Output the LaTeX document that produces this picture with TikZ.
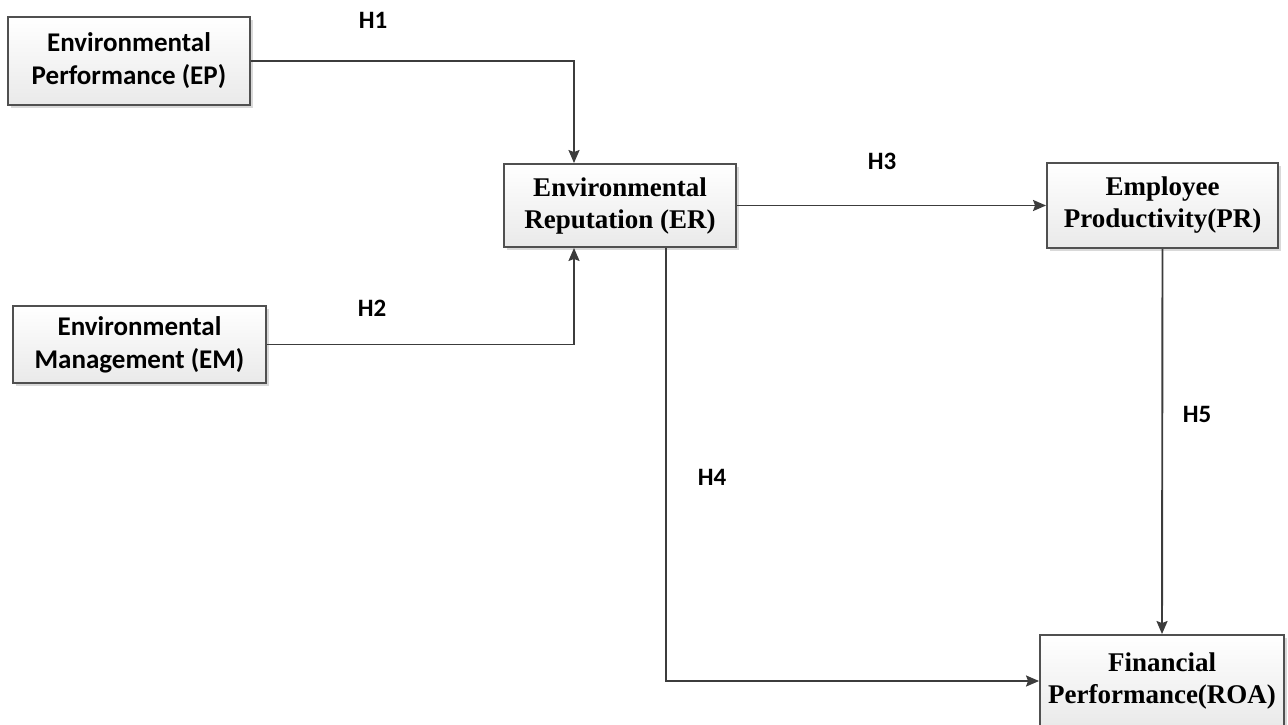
\documentclass[tikz,border=0pt]{standalone}
\usepackage{fontspec}
\setmainfont{Liberation Serif}
\newfontfamily\calibri{Carlito}
\usetikzlibrary{arrows.meta,shadows}
\definecolor{edgecol}{HTML}{505050}
\definecolor{arrcol}{HTML}{3C3C3C}
\begin{document}
\begin{tikzpicture}[x=1pt,y=-1pt,
  box/.style={draw=edgecol, line width=1.9pt, top color=white, bottom color=gray!17,
    drop shadow={shadow xshift=2.5pt, shadow yshift=-2.5pt, fill=gray!50, opacity=0.6},
    align=center, inner sep=0pt, font=\fontsize{27}{32}\selectfont\bfseries},
  calbox/.style={box, font=\calibri\fontsize{27}{33}\selectfont\bfseries},
  hlab/.style={font=\calibri\fontsize{25}{30}\selectfont\bfseries, inner sep=0pt},
  conn/.style={draw=arrcol, line width=1.9pt, -{Stealth[length=13pt,width=11pt,inset=2pt]}}]
\useasboundingbox (0,0) rectangle (1288,724);
\node[calbox, minimum width=242, minimum height=88] (ep) at (129,61) {Environmental\\Performance (EP)};
\node[calbox, minimum width=253, minimum height=77] (em) at (139.5,344.5) {Environmental\\Management (EM)};
\node[box, minimum width=232, minimum height=83] (er) at (620,205.5) {Environmental\\Reputation (ER)};
\node[box, minimum width=231, minimum height=85] (pr) at (1162.5,205.5) {Employee\\Productivity(PR)};
\node[box, minimum width=244, minimum height=92] (roa) at (1162,681) {Financial\\Performance(ROA)};
\draw[conn] (ep.east) -| ([xshift=-46pt]er.north);
\draw[conn] (em.east) -| ([xshift=-46pt]er.south);
\draw[conn] (er.east) -- (pr.west);
\draw[conn] ([xshift=46pt]er.south) |- (roa.west);
\draw[conn] (pr.south) -- (roa.north);
\node[hlab] (h1) at (373,20) {H1};
\node[hlab] (h2) at (372,308) {H2};
\node[hlab] (h3) at (882,161) {H3};
\node[hlab] (h4) at (712,477) {H4};
\node[hlab] (h5) at (1197,414) {H5};
\end{tikzpicture}
\end{document}
